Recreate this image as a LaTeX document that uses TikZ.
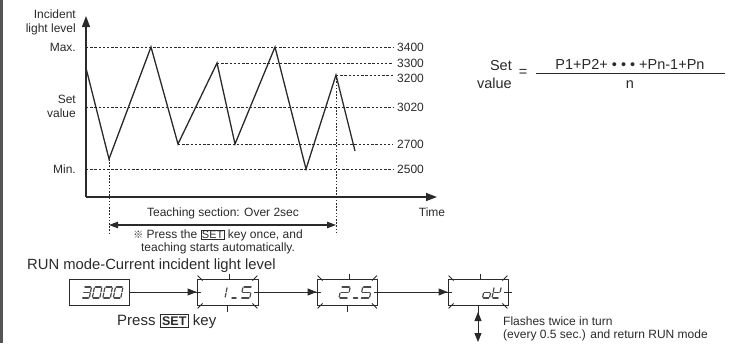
\documentclass[tikz,border=0pt]{standalone}
\usepackage{fontspec}
\setmainfont{Liberation Sans}
\newfontfamily\cjkfont{Noto Sans CJK JP}
\usetikzlibrary{arrows.meta,calc}

\definecolor{ink}{HTML}{2A2A2A}
\definecolor{barcol}{HTML}{555555}

\tikzset{
  lbl/.style={font=\fontsize{12}{14}\selectfont, text=ink, inner sep=0pt},
  dashln/.style={draw=ink, line width=0.85pt, dash pattern=on 2.4pt off 1.8pt},
  dotln/.style={draw=ink, line width=0.9pt, dash pattern=on 1.6pt off 1.6pt},
  wave/.style={draw=ink, line width=1.3pt},
  axisarrow/.style={draw=ink, line width=1.3pt, -{Triangle[length=11pt,width=8pt]}},
  disp/.style={draw=ink, line width=0.9pt, minimum height=26pt, inner sep=0pt},
  segline/.style={draw=ink!85, line width=1.2pt, line cap=round},
  flow/.style={draw=ink, line width=0.9pt, -{Triangle[length=9pt,width=7pt]}},
  flashtick/.style={draw=ink, line width=0.8pt},
}

% seven-segment digit: #1 x (left, bottom), #2 y (bottom), #3 width, #4 segments (1=a ... 7=g)
\newcommand\segdigit[4]{%
  \begin{scope}[shift={(#1,#2)},y=1pt,xslant=0.2]
    \foreach \sg in {#4}{%
      \ifcase\sg\relax
      \or \draw[segline] (0.9,11)--(#3-0.9,11);
      \or \draw[segline] (#3,10.1)--(#3,6.3);
      \or \draw[segline] (#3,4.7)--(#3,0.9);
      \or \draw[segline] (0.9,0)--(#3-0.9,0);
      \or \draw[segline] (0,0.9)--(0,4.7);
      \or \draw[segline] (0,6.3)--(0,10.1);
      \or \draw[segline] (0.9,5.5)--(#3-0.9,5.5);
      \fi}%
  \end{scope}}

\newcommand\flashmarks[1]{%
  \draw[flashtick] ($(#1.north west)+(1,-3)$) -- ($(#1.north west)+(6,2)$);
  \draw[flashtick] ($(#1.north east)+(-1,-3)$) -- ($(#1.north east)+(-6,2)$);
  \draw[flashtick] ($(#1.south west)+(1,3)$) -- ($(#1.south west)+(6,-2)$);
  \draw[flashtick] ($(#1.south east)+(-1,3)$) -- ($(#1.south east)+(-6,-2)$);
  \draw[flashtick] ($(#1.north)+(2,-5)$) -- ($(#1.north)+(2,0)$);
  \draw[flashtick] ($(#1.south)+(0,1)$) -- ($(#1.south)+(0,7)$);
  \draw[flashtick] ($(#1.west)+(-4,0)$) -- ($(#1.west)+(4,0)$);
  \draw[flashtick] ($(#1.east)+(-4,0)$) -- ($(#1.east)+(4,0)$);
}

\newcommand\smallsetkey{{\setlength\fboxsep{0.8pt}\setlength\fboxrule{0.5pt}\fbox{\fontsize{11}{12}\selectfont SET}}}
\newcommand\boldsetkey{{\setlength\fboxsep{1.6pt}\setlength\fboxrule{0.8pt}\fbox{\fontsize{12.5}{13}\selectfont\bfseries SET}}}

\begin{document}
\begin{tikzpicture}[x=1pt,y=-1pt]
\useasboundingbox (0,0) rectangle (731,343);
\fill[barcol] (0,0) rectangle (3,343);

% ---- chart axes
\coordinate (orig) at (86,197);
\coordinate (ytip) at (86,16);
\coordinate (xtip) at (437,197);
\draw[axisarrow] (orig) -- (ytip);
\draw[axisarrow] (orig) -- (xtip);

% axis labels
\node[lbl, anchor=east, align=right, font=\fontsize{12}{14}\selectfont] (ylab) at (76,22) {Incident\\light level};
\node[lbl, anchor=east] (lmax) at (76,47) {Max.};
\node[lbl, anchor=east, align=right, font=\fontsize{12}{14}\selectfont] (lset) at (76,106) {Set\\value};
\node[lbl, anchor=east] (lmin) at (76,169) {Min.};
\node[lbl] (ltime) at (432,212) {Time};

% dashed levels
\draw[dashln] (86,47) -- (393,47);
\draw[dashln] (217,63) -- (393,63);
\draw[dashln] (336,75) -- (393,75);
\draw[dashln] (86,107) -- (393,107);
\draw[dashln] (178,144) -- (393,144);
\draw[dashln] (86,169) -- (393,169);

\node[lbl, anchor=west] (v3400) at (397,47) {3400};
\node[lbl, anchor=west] (v3300) at (397,63) {3300};
\node[lbl, anchor=west] (v3200) at (397,78) {3200};
\node[lbl, anchor=west] (v3020) at (397,107) {3020};
\node[lbl, anchor=west] (v2700) at (397,144) {2700};
\node[lbl, anchor=west] (v2500) at (397,169) {2500};

% waveform
\draw[wave] (86,68) -- (109,159) -- (151,47) -- (178,144) -- (217,63) -- (235,144)
  -- (275,47) -- (306,169) -- (336,75) -- (355,151);

% teaching section
\draw[dotln] (109,159) -- (109,235);
\draw[dotln] (336,75) -- (336,235);
\coordinate (ts1) at (109,225);
\coordinate (ts2) at (336,225);
\draw[draw=ink, line width=1.1pt, {Triangle[length=9pt,width=6.5pt]}-{Triangle[length=9pt,width=6.5pt]}] (ts1) -- (ts2);
\node[lbl] (tlab) at (223,213) {Teaching section: Over 2sec};
\node[lbl, align=center, font=\fontsize{12}{13.5}\selectfont] (tnote) at (218,242)
  {{\cjkfont\fontsize{10}{12}\selectfont ※} Press the \smallsetkey\ key once, and\\teaching starts automatically.};

% formula
\node[lbl, anchor=east, align=right, font=\fontsize{14.5}{18}\selectfont] (fset) at (512,75) {Set\\value};
\node[lbl, font=\fontsize{14.5}{16}\selectfont] (feq) at (523,73) {=};
\coordinate (fl1) at (536,73.5);
\coordinate (fl2) at (725,73.5);
\draw[draw=ink, line width=0.9pt] (fl1) -- (fl2);
\node[lbl, font=\fontsize{14.5}{16}\selectfont] (fnum) at (630,64) {P1+P2+ • • • +Pn-1+Pn};
\node[lbl, font=\fontsize{14.5}{16}\selectfont] (fden) at (630,85) {n};

% RUN mode
\node[lbl, anchor=west, font=\fontsize{14.8}{17}\selectfont] (runt) at (27,266) {RUN mode-Current incident light level};

\node[disp, minimum width=60pt] (b1) at (99,292) {};
\node[disp, minimum width=61pt] (b2) at (227.5,292) {};
\node[disp, minimum width=60.5pt] (b3) at (347.3,292) {};
\node[disp, minimum width=60pt] (b4) at (478,292) {};

\flashmarks{b2}
\flashmarks{b3}
\flashmarks{b4}

\draw[flow] (b1) -- (b2);
\draw[flow] (b2) -- (b3);
\draw[flow] (b3) -- (b4);

% digits box 1: 3000
\segdigit{81.8}{298}{7.5}{1,2,3,4,7}
\segdigit{92.3}{298}{7.5}{1,2,3,4,5,6}
\segdigit{102.8}{298}{7.5}{1,2,3,4,5,6}
\segdigit{113.3}{298}{7.5}{1,2,3,4,5,6}
% box 2: 1_5
\segdigit{216}{298}{9}{2,3}
\segdigit{231}{298}{6}{4}
\segdigit{240.8}{298}{9}{1,6,7,3,4}
% box 3: 2_5
\segdigit{339}{298}{9}{1,2,7,5,4}
\segdigit{352.5}{298}{6}{4}
\segdigit{360.5}{298}{9}{1,6,7,3,4}
% box 4: oK
\segdigit{482.5}{298}{7}{3,4,5,7}
\segdigit{492}{298}{7}{2,4,5,6,7}

\node[lbl, anchor=west, font=\fontsize{15}{17}\selectfont] (press) at (117,321) {Press \boldsetkey\ key};

% flashing return
\coordinate (dnend) at (478,342);
\coordinate (upbase) at (478,323);
\coordinate (uptip) at (478,312);
\draw[flow] (b4.south) -- (dnend);
\draw[flow] (upbase) -- (uptip);
\node[lbl, anchor=west] (fl1t) at (503,321) {Flashes twice in turn};
\node[lbl, anchor=west] (fl2t) at (503,335) {(every 0.5 sec.) and return RUN mode};
\end{tikzpicture}
\end{document}
